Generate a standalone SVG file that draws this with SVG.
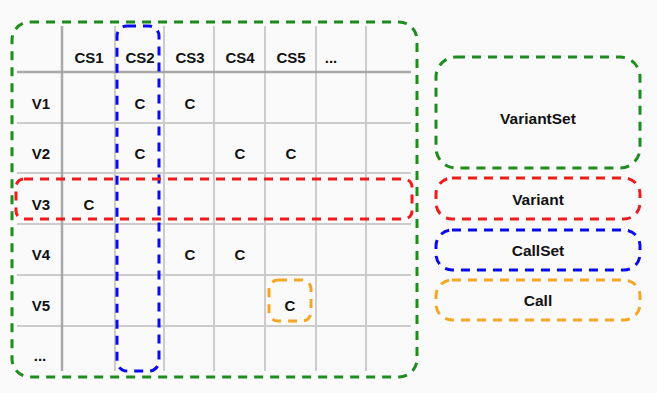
<svg xmlns="http://www.w3.org/2000/svg" width="657" height="393" viewBox="0 0 657 393">
  <style>
    .grid { stroke: #cccccc; stroke-width: 2; }
    .grid-strong { stroke: #a8a8a8; stroke-width: 2.5; }
    .lbl { font-family: "Liberation Sans", Arial, sans-serif; font-weight: bold; font-size: 15px; fill: #111; text-anchor: middle; dominant-baseline: central; }
    .leg { font-family: "Liberation Sans", Arial, sans-serif; font-weight: bold; font-size: 15.5px; fill: #111; text-anchor: middle; dominant-baseline: central; }
    .box { fill: none; stroke-width: 3; stroke-dasharray: 9 7; }
    .green { stroke: #1e8c1e; }
    .red { stroke: #ee1c1c; }
    .blue { stroke: #0a0aee; }
    .orange { stroke: #f5a623; }
  </style>
  <rect width="657" height="393" fill="#fafafa"/>

  <!-- table grid -->
  <g id="grid">
    <line class="grid" x1="115" y1="26" x2="115" y2="371"/>
    <line class="grid" x1="164" y1="26" x2="164" y2="371"/>
    <line class="grid" x1="214" y1="26" x2="214" y2="371"/>
    <line class="grid" x1="265" y1="26" x2="265" y2="371"/>
    <line class="grid" x1="316" y1="26" x2="316" y2="371"/>
    <line class="grid" x1="366" y1="26" x2="366" y2="371"/>
    <line class="grid" x1="17" y1="123" x2="411" y2="123"/>
    <line class="grid" x1="17" y1="173" x2="411" y2="173"/>
    <line class="grid" x1="17" y1="224" x2="411" y2="224"/>
    <line class="grid" x1="17" y1="275" x2="411" y2="275"/>
    <line class="grid" x1="17" y1="326" x2="411" y2="326"/>
    <line class="grid-strong" x1="62" y1="26" x2="62" y2="371"/>
    <line class="grid-strong" x1="17" y1="72" x2="411" y2="72"/>
  </g>

  <!-- column headers -->
  <g id="headers">
    <text class="lbl" x="89" y="57">CS1</text>
    <text class="lbl" x="140" y="57">CS2</text>
    <text class="lbl" x="190" y="57">CS3</text>
    <text class="lbl" x="240" y="57">CS4</text>
    <text class="lbl" x="291" y="57">CS5</text>
    <text class="lbl" x="331" y="57">...</text>
  </g>

  <!-- row headers -->
  <g id="rows">
    <text class="lbl" x="41" y="103">V1</text>
    <text class="lbl" x="41" y="153">V2</text>
    <text class="lbl" x="41" y="204">V3</text>
    <text class="lbl" x="41" y="254">V4</text>
    <text class="lbl" x="41" y="305">V5</text>
    <text class="lbl" x="40" y="355">...</text>
  </g>

  <!-- call cells -->
  <g id="cells">
    <text class="lbl" x="140" y="103">C</text>
    <text class="lbl" x="190" y="103">C</text>
    <text class="lbl" x="140" y="153">C</text>
    <text class="lbl" x="240" y="153">C</text>
    <text class="lbl" x="291" y="153">C</text>
    <text class="lbl" x="89" y="204">C</text>
    <text class="lbl" x="190" y="254">C</text>
    <text class="lbl" x="240" y="254">C</text>
    <text class="lbl" x="290" y="305">C</text>
  </g>

  <!-- highlight regions -->
  <g id="variantset-region"><rect class="box green" x="12" y="22" width="405" height="355" rx="18"/></g>
  <g id="callset-region"><rect class="box blue" x="117" y="26" width="42" height="345" rx="10"/></g>
  <g id="variant-region"><rect class="box red" x="16" y="179" width="396" height="40" rx="8"/></g>
  <g id="call-region"><rect class="box orange" x="269" y="280" width="42" height="41" rx="9"/></g>

  <!-- legend -->
  <g id="legend-variantset">
    <rect class="box green" x="436" y="57" width="204" height="111" rx="20"/>
    <text class="leg" x="538" y="118">VariantSet</text>
  </g>
  <g id="legend-variant">
    <rect class="box red" x="436" y="178" width="204" height="41" rx="16"/>
    <text class="leg" x="538" y="199">Variant</text>
  </g>
  <g id="legend-callset">
    <rect class="box blue" x="436" y="230" width="204" height="40" rx="16"/>
    <text class="leg" x="538" y="250">CallSet</text>
  </g>
  <g id="legend-call">
    <rect class="box orange" x="436" y="280" width="204" height="40" rx="16"/>
    <text class="leg" x="538" y="300">Call</text>
  </g>
</svg>
